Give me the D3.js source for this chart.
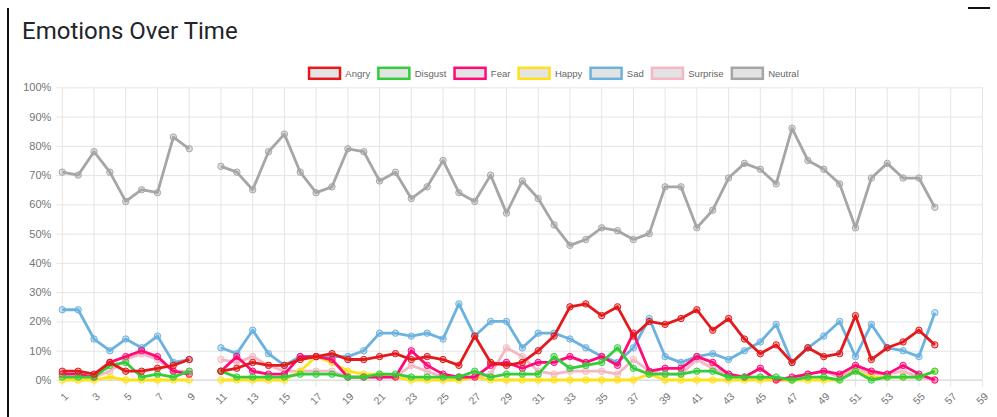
<!DOCTYPE html>
<html>
<head>
<meta charset="utf-8">
<script src="https://cdn.jsdelivr.net/npm/d3@7"></script>
<style>
  body { margin: 0; background: #fff; }
  svg { display: block; }
</style>
</head>
<body>
<div id="chart"></div>
<script>
// data (percent per frame); null = no value
const labels = d3.range(1, 60);
const angry    = [3,3,2,6,3,3,4,5,7,null, 3,4,6,5,5,7,8,9,7,7, 8,9,7,8,7,5,15,6,5,6, 10,15,25,26,22,25,15,20,19,21, 24,17,21,14,9,12,6,11,8,9, 22,7,11,13,17,12];
const disgust  = [1,1,1,5,6,1,2,1,3,null, 3,1,1,1,1,2,2,2,1,1, 2,2,1,1,1,1,3,1,2,2, 2,8,4,5,6,11,4,2,2,2, 3,3,1,1,1,1,0,1,1,0, 3,0,1,1,1,3];
const fear     = [2,2,1,6,8,10,8,3,2,null, 3,8,3,2,2,8,8,7,1,1, 1,1,10,5,2,1,1,5,6,4, 6,6,8,6,8,5,16,3,4,4, 8,6,2,1,4,0,1,2,3,2, 5,3,2,5,2,0];
const happy    = [0,0,0,1,0,0,0,0,0,null, 0,0,0,0,0,3,8,6,3,2, 2,1,0,0,0,0,1,0,0,0, 0,0,0,0,0,0,0,2,0,0, 0,0,0,0,0,0,0,0,0,0, 3,1,1,1,1,3];
const sad      = [24,24,14,10,14,11,15,6,7,null, 11,9,17,9,5,8,8,8,8,10, 16,16,15,16,14,26,15,20,20,11, 16,16,14,11,8,6,11,21,8,6, 8,9,7,10,13,19,6,11,15,20, 8,19,11,10,8,23];
const surprise = [1,1,1,3,7,9,7,3,3,null, 7,6,8,5,3,3,3,3,1,1, 1,1,5,3,1,1,1,2,11,8, 3,2,3,3,3,2,7,3,2,2, 7,4,2,1,1,0,0,2,3,1, 4,2,2,3,1,0];
const neutral  = [71,70,78,71,61,65,64,83,79,null, 73,71,65,78,84,71,64,66,79,78, 68,71,62,66,75,64,61,70,57,68, 62,53,46,48,52,51,48,50,66,66, 52,58,69,74,72,67,86,75,72,67, 52,69,74,69,69,59];
const yTicks = [0,10,20,30,40,50,60,70,80,90,100];

const series = [
  { name: "Angry",    values: angry,    color: "#e3191c" },
  { name: "Disgust",  values: disgust,  color: "#35cc3b" },
  { name: "Fear",     values: fear,     color: "#ff0a78" },
  { name: "Happy",    values: happy,    color: "#ffe11a" },
  { name: "Sad",      values: sad,      color: "#6cb2df" },
  { name: "Surprise", values: surprise, color: "#f5b7c3" },
  { name: "Neutral",  values: neutral,  color: "#a6a6a6" }
];

const width = 997;
const height = 417;
const plot = { left: 62.3, right: 982.4, top: 87.3, bottom: 380 };

const svg = d3.select("#chart")
.append("svg")
  .attr("width", width)
  .attr("height", height)
  .style("font-family", "'Liberation Sans', Arial, Helvetica, sans-serif");

// card edges
svg.append("rect").attr("x", 7).attr("y", 8).attr("width", 2).attr("height", height - 8).attr("fill", "#111");
svg.append("rect").attr("x", 968).attr("y", 7).attr("width", 22).attr("height", 2).attr("fill", "#111");

svg.append("text")
  .attr("x", 22)
  .attr("y", 39)
  .attr("fill", "#212529")
  .style("font-family", "Roboto, 'Liberation Sans', sans-serif")
  .style("font-size", "24px")
  .text("Emotions Over Time");

const x = d3.scaleLinear().domain([1, 59]).range([plot.left, plot.right]);
const y = d3.scaleLinear().domain([0, 100]).range([plot.bottom, plot.top]);

// horizontal grid + y labels
const yAxis = d3.axisLeft(y)
  .tickValues(yTicks)
  .tickSize(-(plot.right - plot.left) - 6)
  .tickPadding(5)
  .tickFormat(d => d + "%");
svg.append("g")
  .attr("transform", `translate(${plot.left - 6},0)`)
  .call(yAxis)
  .call(g => g.select(".domain").remove())
  .call(g => g.selectAll("line").attr("stroke", "#e5e5e5"))
  .call(g => g.selectAll("text").attr("fill", "#757575").style("font-size", "11px")
    .attr("x", -5));

// vertical grid + x labels (every other label shown)
const shown = labels.filter((d, i) => i % 2 === 0);
const xg = svg.append("g");
xg.selectAll("line")
  .data(shown)
  .enter()
  .append("line")
  .attr("x1", d => x(d)).attr("x2", d => x(d))
  .attr("y1", plot.top).attr("y2", plot.bottom + 7)
  .attr("stroke", "#e5e5e5");
xg.selectAll("text")
  .data(shown)
  .enter()
  .append("text")
  .attr("transform", d => `translate(${x(d) + 4},${plot.bottom + 14.5}) rotate(-45)`)
  .attr("text-anchor", "end")
  .attr("dy", "0.35em")
  .attr("fill", "#757575")
  .style("font-size", "10.5px")
  .text(d => d);

svg.append("line")
  .attr("x1", plot.left).attr("x2", plot.right)
  .attr("y1", plot.bottom).attr("y2", plot.bottom)
  .attr("stroke", "#d9d9d9");

// lines and points, first dataset drawn last so it sits on top
const line = d3.line()
  .defined(d => d.v != null)
  .x(d => x(d.l))
  .y(d => y(d.v));

series.slice().reverse().forEach(s => {
  const pts = s.values.map((v, i) => ({ l: labels[i], v: v }));
  const g = svg.append("g");
  g.append("path")
    .datum(pts)
    .attr("d", line)
    .attr("fill", "none")
    .attr("stroke", s.color)
    .attr("stroke-width", 2.8)
    .attr("stroke-linejoin", "round");
  g.selectAll("circle")
    .data(pts.filter(d => d.v != null))
    .enter()
    .append("circle")
    .attr("cx", d => x(d.l))
    .attr("cy", d => y(d.v))
    .attr("r", 3.2)
    .attr("fill", s.color)
    .attr("fill-opacity", 0.35)
    .attr("stroke", s.color)
    .attr("stroke-width", 1);
});

// legend
const legend = svg.append("g");
let lx = 0;
series.forEach(s => {
  const it = legend.append("g");
  it.append("rect")
    .attr("x", 1.2).attr("y", 67.8)
    .attr("width", 31).attr("height", 11)
    .attr("fill", "#e3e3e3")
    .attr("stroke", s.color)
    .attr("stroke-width", 2.5);
  const t = it.append("text")
    .attr("x", 37.5).attr("y", 77)
    .attr("fill", "#666")
    .style("font-size", "9.5px")
    .text(s.name);
  const w = 37.5 + t.node().getComputedTextLength();
  it.attr("transform", `translate(${lx},0)`);
  lx += w + 7;
});
const total = lx - 7;
legend.attr("transform", `translate(${553.3 - total / 2},0)`);
</script>
</body>
</html>
